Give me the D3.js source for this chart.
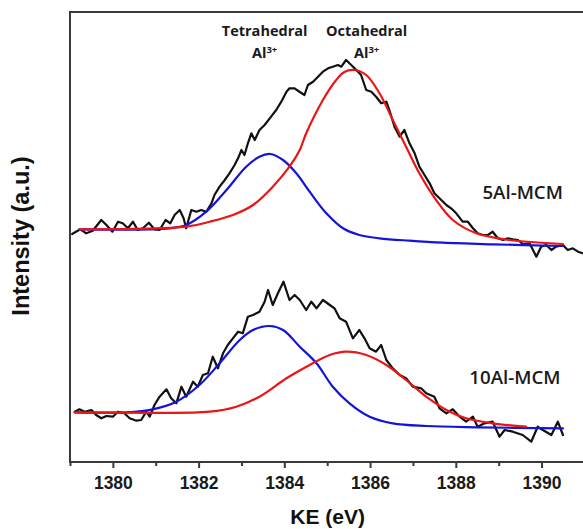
<!DOCTYPE html>
<html><head><meta charset="utf-8">
<script src="https://cdn.jsdelivr.net/npm/d3@7"></script>
<style>body{margin:0;background:#fff}svg{display:block}</style>
</head><body><svg id="c" width="583" height="529"></svg>
<script>
// ---- data (KE in eV, intensity in arbitrary units) ----
const majorTicks = [1380, 1382, 1384, 1386, 1388, 1390];
const minorTicks = [1379, 1381, 1383, 1385, 1387, 1389];

const raw5Al = [[1379.05,227],[1379.24,231.7],[1379.38,227.7],[1379.53,230.3],[1379.73,241],[1379.85,236],[1379.99,229.3],[1380.12,239.3],[1380.23,237.7],[1380.35,232.7],[1380.47,239.3],[1380.58,231],[1380.70,232.7],[1380.84,238.3],[1380.97,231.7],[1381.09,231],[1381.23,241],[1381.34,237.7],[1381.44,246],[1381.56,251],[1381.65,242.7],[1381.71,232.7],[1381.83,251],[1381.95,249.3],[1382.06,251],[1382.18,249.3],[1382.30,257.7],[1382.37,266],[1382.49,274.3],[1382.61,281],[1382.72,287.7],[1382.84,296],[1382.92,302.7],[1383.00,311],[1383.07,306],[1383.15,317.7],[1383.23,327.7],[1383.31,321],[1383.42,331],[1383.54,336],[1383.66,342.7],[1383.81,351],[1383.93,359.3],[1384.05,369.3],[1384.12,372.7],[1384.24,372.7],[1384.36,369],[1384.47,366],[1384.55,376],[1384.67,379.3],[1384.78,384],[1384.90,389.3],[1385.02,392.7],[1385.13,394.3],[1385.25,396],[1385.33,394.3],[1385.44,401],[1385.56,396],[1385.68,391],[1385.79,386],[1385.91,371],[1386.03,369.3],[1386.14,364.3],[1386.26,357.7],[1386.38,359.3],[1386.45,351],[1386.57,334.3],[1386.69,324.3],[1386.80,331],[1386.92,317.7],[1387.04,307.7],[1387.15,294.3],[1387.27,286],[1387.39,277.7],[1387.50,267.7],[1387.62,262.7],[1387.78,256],[1387.89,252.7],[1388.01,247.7],[1388.16,239.3],[1388.28,239.3],[1388.40,232.7],[1388.51,227.7],[1388.63,226],[1388.75,226],[1388.86,229.3],[1388.98,222.7],[1389.10,221],[1389.21,222.7],[1389.33,221.7],[1389.45,221],[1389.56,217],[1389.72,217.7],[1389.88,204.3],[1389.99,214.3],[1390.11,216],[1390.23,211],[1390.34,214.3],[1390.50,216],[1390.61,211],[1390.73,212.7],[1390.85,209.3],[1390.96,207.7]];

const tet5Al = [[1379.22,231.7],[1381.32,232.7],[1381.71,236],[1382.18,249.3],[1382.65,271],[1383.11,294.3],[1383.42,304.3],[1383.67,307],[1383.97,301],[1384.28,287.7],[1384.59,269.3],[1384.98,247.7],[1385.37,232.7],[1385.75,226],[1386.22,222.7],[1386.92,220.3],[1387.70,218.3],[1388.86,216.7],[1390.50,215]];

const oct5Al = [[1379.22,231.7],[1381.71,234.3],[1382.26,239.3],[1382.80,246],[1383.27,256],[1383.73,274.3],[1384.12,294.3],[1384.36,311],[1384.51,327.7],[1384.90,361],[1385.21,381],[1385.40,389],[1385.64,391],[1385.91,386],[1386.22,367.7],[1386.53,341],[1386.84,314.3],[1387.15,287.7],[1387.54,261],[1387.93,241],[1388.48,227.7],[1389.25,221],[1390.50,217]];

const raw10Al = [[1379.11,49.3],[1379.22,51.7],[1379.34,49.3],[1379.50,51],[1379.61,46],[1379.73,42.7],[1379.85,45],[1380.00,44.3],[1380.12,49.3],[1380.27,47.7],[1380.39,42.7],[1380.55,40.3],[1380.66,41],[1380.78,49.3],[1380.86,44.3],[1380.97,56],[1381.09,64.3],[1381.25,71.7],[1381.36,62.7],[1381.48,57.7],[1381.60,74.3],[1381.71,64.3],[1381.87,79.3],[1381.98,74.3],[1382.10,86],[1382.22,87.7],[1382.33,104.3],[1382.45,92.7],[1382.57,107.7],[1382.68,116],[1382.80,122.7],[1382.92,129.3],[1383.03,127.7],[1383.15,144.3],[1383.27,146],[1383.42,149.3],[1383.54,159.3],[1383.62,171],[1383.73,156],[1383.85,167.7],[1383.98,179.3],[1384.12,161],[1384.24,166],[1384.36,161],[1384.51,151],[1384.63,159.3],[1384.75,152.7],[1384.90,161],[1385.06,156],[1385.17,152.7],[1385.29,142.7],[1385.44,139.3],[1385.60,122.7],[1385.75,131],[1385.87,122.7],[1385.99,112.7],[1386.14,109.3],[1386.26,116],[1386.38,101],[1386.53,92.7],[1386.69,86],[1386.84,82.7],[1387.00,74.3],[1387.19,72.7],[1387.31,67.7],[1387.50,64.3],[1387.62,52.7],[1387.78,47.7],[1387.93,51.7],[1388.09,44.3],[1388.24,39.3],[1388.40,44.3],[1388.51,34.3],[1388.67,37.7],[1388.86,39.3],[1389.02,24.3],[1389.14,31],[1389.33,29.3],[1389.56,26],[1389.76,19.3],[1389.91,34.3],[1390.03,31],[1390.23,26],[1390.38,39.3],[1390.50,26]];

const tet10Al = [[1379.11,48.7],[1380.31,48.7],[1380.93,51.7],[1381.48,59.3],[1382.02,76],[1382.49,97.7],[1382.96,121],[1383.27,131],[1383.66,135],[1383.97,131],[1384.36,114.3],[1384.75,97.7],[1385.13,74.3],[1385.52,57.7],[1385.99,44.3],[1386.53,37.7],[1387.31,35],[1388.48,33.7],[1390.50,32.7]];

const oct10Al = [[1379.11,48.7],[1380.31,48.3],[1382.26,49.3],[1382.88,54.3],[1383.42,64.3],[1384.05,82.7],[1384.59,96],[1385.06,106],[1385.44,109.3],[1385.91,106],[1386.38,96],[1386.84,81],[1387.31,64.3],[1387.78,51],[1388.24,42.7],[1388.86,37.7],[1389.64,34.3]];

const peakLabels = [["Tetrahedral", 1383.54], ["Octahedral", 1385.92]];
const sampleLabels = [["5Al-MCM", 1389.56, 262], ["10Al-MCM", 1389.38, 77]];

// ---- drawing ----
const svg = d3.select("#c");
const x = d3.scaleLinear().domain([1379, 1391]).range([70, 584.4]);
const y = d3.scaleLinear().domain([-1, 450]).range([462, 11]);

const g = svg.append("g");

const line = d3.line().x(d => x(d[0])).y(d => y(d[1]));
const smooth = d3.line().x(d => x(d[0])).y(d => y(d[1])).curve(d3.curveCatmullRom.alpha(0.5));

function path(data, gen, color, w) {
  g.append("path").datum(data).attr("d", gen)
    .attr("fill", "none").attr("stroke", color).attr("stroke-width", w)
    .attr("stroke-linejoin", "round").attr("stroke-linecap", "round");
}
const BLACK = "#111", BLUE = "#1414d8", RED = "#ec1515";
path(raw5Al, line, BLACK, 2.2);
path(raw10Al, line, BLACK, 2.2);
path(tet5Al, smooth, BLUE, 2.2);
path(tet10Al, smooth, BLUE, 2.2);
path(oct5Al, smooth, RED, 2.2);
path(oct10Al, smooth, RED, 2.2);

// frame
svg.append("rect").attr("x", x(1379)).attr("y", y(450) + 1)
  .attr("width", x(1391) - x(1379)).attr("height", y(-1) - y(450) - 1)
  .attr("fill", "none").attr("stroke", "#3a3a3a").attr("stroke-width", 2);

// axes
const axMaj = svg.append("g").attr("transform", `translate(0,${y(-1)})`)
  .call(d3.axisBottom(x).tickValues(majorTicks).tickSize(6).tickPadding(9).tickFormat(d3.format("d")));
axMaj.select(".domain").remove();
axMaj.selectAll("line").attr("stroke", "#3a3a3a").attr("stroke-width", 2);
axMaj.selectAll("text").attr("font-family", "Liberation Sans, Arial, sans-serif")
  .attr("font-weight", "bold").attr("font-size", 17.5).attr("fill", "#1a1a1a");

const axMin = svg.append("g").attr("transform", `translate(0,${y(-1)})`)
  .call(d3.axisBottom(x).tickValues(minorTicks).tickSize(4).tickFormat(""));
axMin.select(".domain").remove();
axMin.selectAll("line").attr("stroke", "#3a3a3a").attr("stroke-width", 2);

// axis titles
svg.append("text").attr("x", 327.7).attr("y", 524)
  .attr("text-anchor", "middle").attr("font-family", "Liberation Sans, Arial, sans-serif")
  .attr("font-weight", "bold").attr("font-size", 21).attr("fill", "#111").text("KE (eV)");
svg.append("text").attr("transform", "translate(29,236) rotate(-90)")
  .attr("text-anchor", "middle").attr("font-family", "Liberation Sans, Arial, sans-serif")
  .attr("font-weight", "bold").attr("font-size", 23.5).attr("fill", "#111").text("Intensity (a.u.)");

// peak annotations
const ann = "'Open Sans', 'Noto Sans', sans-serif";
peakLabels.forEach(([name, ke]) => {
  svg.append("text").attr("x", x(ke)).attr("y", y(425)).attr("text-anchor", "middle")
    .attr("font-family", ann).attr("font-weight", "bold").attr("font-size", 14.5)
    .attr("fill", "#1a1a1a").text(name);
  const t = svg.append("text").attr("x", x(ke)).attr("y", y(403.5)).attr("text-anchor", "middle")
    .attr("font-family", ann).attr("font-weight", "bold").attr("font-size", 14.5).attr("fill", "#1a1a1a");
  t.append("tspan").text("Al");
  t.append("tspan").attr("font-size", 9.5).attr("dy", -5).text("3+");
});
sampleLabels.forEach(([name, ke, v]) => {
  svg.append("text").attr("x", x(ke)).attr("y", y(v)).attr("text-anchor", "middle")
    .attr("font-family", ann).attr("font-weight", 600).attr("font-size", 18.7)
    .attr("fill", "#1a1a1a").text(name);
});
</script></body></html>
